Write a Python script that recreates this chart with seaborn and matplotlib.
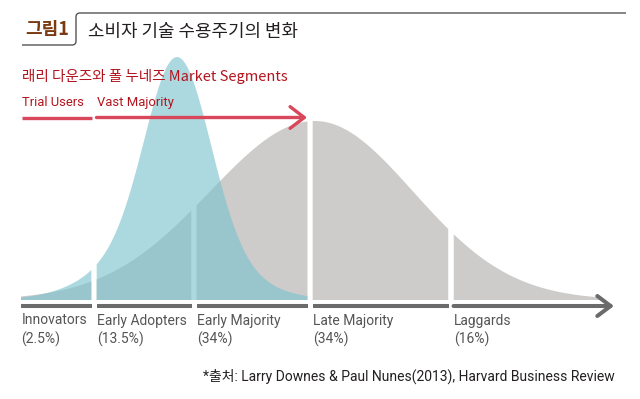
import numpy as np
import matplotlib.pyplot as plt
import seaborn as sns
from matplotlib.path import Path
from matplotlib.patches import PathPatch

# ── Global style ─────────────────────────────────────────────
sns.set_theme(style="white")
plt.rcParams["font.family"] = ["Roboto", "Noto Sans CJK KR", "DejaVu Sans"]
KR = ["Noto Sans CJK KR", "DejaVu Sans"]

# ── Data ─────────────────────────────────────────────────────
segments = ["Innovators", "Early Adopters", "Early Majority", "Late Majority", "Laggards"]
shares = ["(2.5%)", "(13.5%)", "(34%)", "(34%)", "(16%)"]
axis_start, axis_end = 21, 600          # where the adoption axis begins / the curve fades out
cuts = [94, 194, 310, 451]              # segment boundaries
arrow_tip = 614

# classic adoption curve (gray): peak position, height, left/right spread
classic_peak, classic_height = 315, 179
classic_spread = (105, 98)

# new "big bang" curve (teal): peak, height, (core, tail) spread and tail weight per side
new_peak, new_height = 177, 243
new_spread_left = (31, 60)
new_spread_right = (33, 58)
new_tail = (0.3, 0.2)

markets = ["Trial Users", "Vast Majority"]
market_cut = 94
market_end = 307

GRAY = "#cdcccb"
TEAL = "#79c2cd"
BAR = "#6b6b6b"
RED_TXT = "#b3131c"
RED_LINE = "#d9475a"
GAP = 5

# ── Figure: x in px, y = height above the baseline (px) ─────
fig = plt.figure(figsize=(6.4, 3.99), dpi=100)
ax = fig.add_axes([0, 0, 1, 1])
ax.set_xlim(0, 640)
ax.set_ylim(300 - 399, 300)
ax.axis("off")


def py(p):
    """pixel row -> data y"""
    return 300 - p


# gray curve, split into segments
x = np.linspace(axis_start, axis_end, 2000)
spread = np.where(x < classic_peak, classic_spread[0], classic_spread[1])
gray = classic_height * np.exp(-0.5 * ((x - classic_peak) / spread) ** 2)
far = np.min(np.abs(x[:, None] - np.array(cuts)[None, :]), axis=1) > GAP / 2
ax.fill_between(x, 0, gray, where=far, color=GRAY, lw=0)

# teal curve, split only at the market boundary
xt = np.linspace(axis_start, cuts[2] - GAP / 2, 1500)
d = xt - new_peak
left = d < 0
s_core = np.where(left, new_spread_left[0], new_spread_right[0])
s_tail = np.where(left, new_spread_left[1], new_spread_right[1])
w = np.where(left, new_tail[0], new_tail[1])
teal = new_height * ((1 - w) * np.exp(-0.5 * (d / s_core) ** 2)
                     + w * np.exp(-0.5 * (d / s_tail) ** 2))
ax.fill_between(xt, 0, teal, where=np.abs(xt - market_cut) > GAP / 2,
                color=TEAL, alpha=0.62, lw=0)

# baseline bars + arrow
starts = [axis_start] + [c + GAP / 2 for c in cuts]
ends = [c - GAP / 2 for c in cuts]
for s, e in zip(starts[:-1], ends):
    ax.plot([s, e], [py(306)] * 2, color=BAR, lw=2.9, solid_capstyle="butt")
ax.annotate("", xy=(arrow_tip, py(306)), xytext=(starts[-1], py(306)),
            arrowprops=dict(arrowstyle="->,head_length=0.8,head_width=0.6",
                            color=BAR, lw=2.9, shrinkA=0, shrinkB=0))

# segment labels
for s, name, share in zip(starts, segments, shares):
    ax.text(s + 0.5, py(313.5), name, fontsize=10, color="#555555", va="top", ha="left")
    ax.text(s + 0.5, py(331.5), share, fontsize=10, color="#555555", va="top", ha="left")

# market-segment arrows (red)
ax.plot([axis_start + 1, market_cut - GAP / 2], [py(117.5)] * 2, color=RED_LINE, lw=2.4,
        solid_capstyle="butt")
ax.annotate("", xy=(market_end, py(117.5)), xytext=(market_cut + GAP / 2, py(117.5)),
            arrowprops=dict(arrowstyle="->,head_length=0.85,head_width=0.65",
                            color=RED_LINE, lw=2.4, shrinkA=0, shrinkB=0))
ax.text(22, py(102.5), markets[0], fontsize=9.4, color=RED_TXT, va="center")
ax.text(market_cut + 3, py(102.5), markets[1], fontsize=9.4, color=RED_TXT, va="center")
ax.text(22, py(76), "래리 다운즈와 폴 누네즈 Market Segments", fontsize=10.5,
        color=RED_TXT, va="center", family=KR)

# title block
ax.text(25, py(29), "그림1", fontsize=13, fontweight="bold", color="#7b3b12",
        va="center", family=KR)
ax.text(88, py(31.5), "소비자 기술 수용주기의 변화", fontsize=12.9, color="#231f20",
        va="center", family=KR)
bracket = Path(
    [(22, py(45)), (72, py(45)), (76, py(45)), (76, py(41)), (76, py(17)),
     (76, py(13)), (80, py(13)), (626, py(13))],
    [Path.MOVETO, Path.LINETO, Path.CURVE3, Path.CURVE3, Path.LINETO,
     Path.CURVE3, Path.CURVE3, Path.LINETO])
ax.add_patch(PathPatch(bracket, fill=False, edgecolor="#555555", lw=1.0))

# source
ax.text(615, py(376), "*출처: Larry Downes & Paul Nunes(2013), Harvard Business Review",
        fontsize=10.0, color="#231f20", va="center", ha="right")

plt.savefig("out.png", dpi=100)
